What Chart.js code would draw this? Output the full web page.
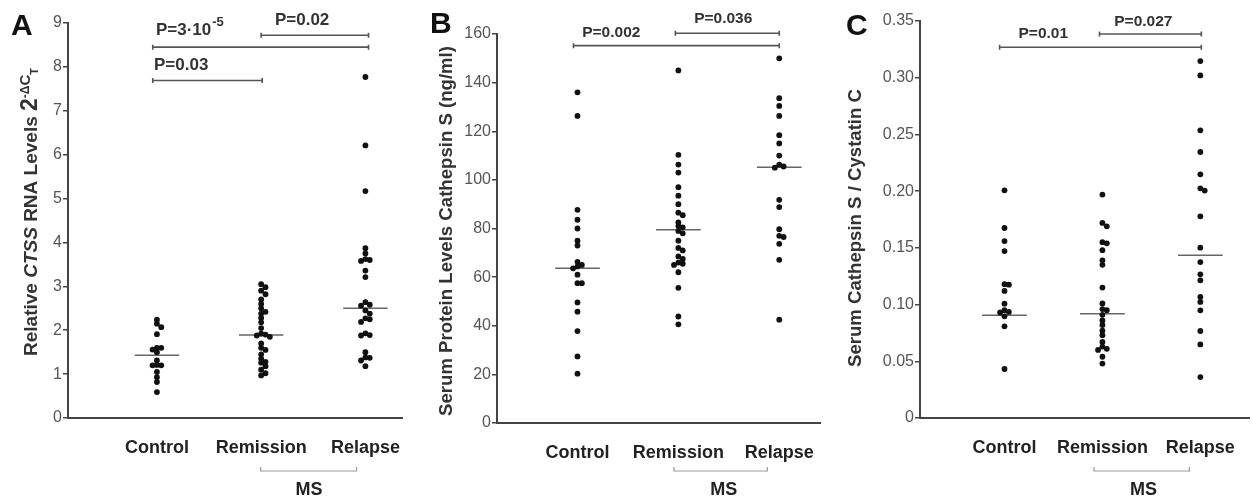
<!DOCTYPE html>
<html>
<head>
<meta charset="utf-8">
<script src="https://cdn.jsdelivr.net/npm/chart.js@4.4.1/dist/chart.umd.min.js"></script>
<style>
  body { margin: 0; background: #fff; }
  #wrap { position: relative; width: 1253px; height: 500px; overflow: hidden; }
  canvas { position: absolute; top: 0; }
</style>
</head>
<body>
<div id="wrap">
  <canvas id="chartA" width="406" height="500" style="left:0px"></canvas>
  <canvas id="chartB" width="410" height="500" style="left:414px"></canvas>
  <canvas id="chartC" width="417" height="500" style="left:836px"></canvas>
</div>
<script>
const groups = ['Control', 'Remission', 'Relapse'];

// A - relative CTSS RNA levels
const rnaControl = [2.24, 2.15, 2.07, 1.91, 1.6, 1.6, 1.56, 1.5, 1.31, 1.21, 1.2, 1.2, 1.05, 0.93, 0.82, 0.59];
const rnaRemission = [3.05, 2.98, 2.9, 2.82, 2.7, 2.6, 2.5, 2.42, 2.38, 2.28, 2.18, 2.05, 1.92, 1.9, 1.88, 1.85,
  1.7, 1.6, 1.55, 1.45, 1.35, 1.28, 1.26, 1.18, 1.1, 1.02, 0.97];
const rnaRelapse = [7.77, 6.21, 5.17, 3.87, 3.75, 3.62, 3.6, 3.58, 3.36, 3.21, 2.64, 2.58, 2.56, 2.45, 2.38,
  2.27, 2.25, 2.19, 1.93, 1.89, 1.88, 1.5, 1.38, 1.37, 1.31, 1.18];
const rnaMedians = [1.43, 1.89, 2.5];

// B - serum protein cathepsin S (ng/ml)
const protControl = [136, 126.3, 87.7, 83.6, 80, 75, 73, 66.3, 65, 64.4, 63.6, 61, 57.5, 57.5, 49.6, 45.8, 37.8, 27.4, 20.3];
const protRemission = [145, 110.3, 106.3, 103, 97, 93.5, 90, 86.5, 85.5, 82.5, 81, 80.5, 79, 78, 75, 72, 71,
  68.5, 67.5, 66, 65.5, 65, 62, 55.6, 43.8, 40.6];
const protRelapse = [150, 133.6, 130.4, 126.3, 118.4, 115, 110, 106.3, 105.5, 105, 91.8, 88.8, 79.7, 77, 76.5, 73.7, 67.1, 42.5];
const protMedians = [63.6, 79.5, 105.2];

// C - cathepsin S / cystatin C ratio
const ratioControl = [0.2007, 0.1675, 0.156, 0.1472, 0.118, 0.1175, 0.112, 0.1008, 0.095, 0.0935, 0.093, 0.0896, 0.0808, 0.0432];
const ratioRemission = [0.197, 0.172, 0.169, 0.155, 0.154, 0.148, 0.139, 0.135, 0.115, 0.101, 0.096, 0.095, 0.091,
  0.086, 0.082, 0.077, 0.073, 0.067, 0.063, 0.061, 0.06, 0.054, 0.048];
const ratioRelapse = [0.3147, 0.302, 0.2536, 0.2345, 0.2148, 0.2025, 0.2005, 0.1778, 0.1502, 0.1375, 0.1267, 0.1214,
  0.1067, 0.1023, 0.0949, 0.0767, 0.0649, 0.0361];
const ratioMedians = [0.0905, 0.092, 0.1434];

Chart.defaults.font.family = '"Liberation Sans", Arial, sans-serif';

// spread points that would sit on top of each other (simple beeswarm, in pixels)
function swarm(values, groupX, pxX, pxY) {
  const placed = [];
  const pts = [];
  const order = values.map((v, i) => i).sort((a, b) => values[b] - values[a]);
  order.forEach(i => {
    const py = values[i] * pxY;
    let off = 0;
    for (let k = 0; k < 15; k++) {
      off = k === 0 ? 0 : Math.ceil(k / 2) * 4.4 * (k % 2 ? 1 : -1);
      const hit = placed.some(p => Math.hypot(p.x - off, p.y - py) < 3.6);
      if (!hit) break;
    }
    placed.push({ x: off, y: py });
    pts.push({ x: groupX + off / pxX, y: values[i] });
  });
  return pts;
}

const decor = {
  id: 'panelDecor',
  afterDraw(chart, args, o) {
    const ctx = chart.ctx;
    const xs = chart.scales.x, ys = chart.scales.y;
    const area = chart.chartArea;
    ctx.save();

    // significance brackets
    ctx.strokeStyle = '#555';
    ctx.lineWidth = 1.6;
    o.brackets.forEach(b => {
      const y = ys.getPixelForValue(b.y);
      const x1 = xs.getPixelForValue(b.from), x2 = xs.getPixelForValue(b.to);
      ctx.beginPath();
      ctx.moveTo(x1, y); ctx.lineTo(x2, y);
      ctx.moveTo(x1, y - 2.5); ctx.lineTo(x1, y + 2.5);
      ctx.moveTo(x2, y - 2.5); ctx.lineTo(x2, y + 2.5);
      ctx.stroke();
    });

    ctx.fillStyle = '#333';
    ctx.textBaseline = 'middle';
    o.pvalues.forEach(p => {
      const x = xs.getPixelForValue(p.x), y = ys.getPixelForValue(p.y);
      ctx.font = 'bold ' + o.pSize + 'px "Liberation Sans", Arial, sans-serif';
      const w = ctx.measureText(p.text).width;
      let sw = 0;
      if (p.sup) {
        ctx.font = 'bold ' + (o.pSize - 4) + 'px "Liberation Sans", Arial, sans-serif';
        sw = ctx.measureText(p.sup).width;
      }
      const x0 = p.align === 'center' ? x - (w + sw) / 2 : x;
      ctx.textAlign = 'left';
      ctx.font = 'bold ' + o.pSize + 'px "Liberation Sans", Arial, sans-serif';
      ctx.fillText(p.text, x0, y);
      if (p.sup) {
        ctx.font = 'bold ' + (o.pSize - 4) + 'px "Liberation Sans", Arial, sans-serif';
        ctx.fillText(p.sup, x0 + w + 1, y - 8);
      }
    });

    // MS bracket under remission + relapse
    const mx1 = xs.getPixelForValue(o.ms.from), mx2 = xs.getPixelForValue(o.ms.to);
    const my = area.bottom + o.ms.dy;
    ctx.strokeStyle = '#999';
    ctx.lineWidth = 1.2;
    ctx.beginPath();
    ctx.moveTo(mx1, my - 4); ctx.lineTo(mx1, my); ctx.lineTo(mx2, my); ctx.lineTo(mx2, my - 4);
    ctx.stroke();
    ctx.fillStyle = '#222';
    ctx.textAlign = 'center';
    ctx.font = 'bold 18px "Liberation Sans", Arial, sans-serif';
    ctx.fillText('MS', xs.getPixelForValue(o.ms.x), area.bottom + o.ms.ty);

    // panel letter
    ctx.textAlign = 'left';
    ctx.textBaseline = 'alphabetic';
    ctx.fillStyle = '#111';
    ctx.font = 'bold 30px "Liberation Sans", Arial, sans-serif';
    ctx.fillText(o.letter.text, o.letter.x, o.letter.y);

    // rotated y title, may mix fonts
    ctx.translate(o.title.x, o.title.y);
    ctx.rotate(-Math.PI / 2);
    ctx.fillStyle = '#333';
    let total = 0;
    o.title.parts.forEach(p => { ctx.font = p.f; total += ctx.measureText(p.t).width; });
    let cx = -total / 2;
    o.title.parts.forEach(p => {
      ctx.font = p.f;
      ctx.fillText(p.t, cx, 6 + (p.dy || 0));
      cx += ctx.measureText(p.t).width;
    });
    ctx.restore();
  }
};

function makePanel(id, c) {
  const pxX = c.areaW / (c.xMax - c.xMin);
  const pxY = c.areaH / (c.yMax - c.yMin);
  const dots = [];
  c.series.forEach((vals, i) => dots.push(...swarm(vals, i + 1, pxX, pxY)));
  const half = 22.5 / pxX;
  const medianPts = [];
  c.medians.forEach((m, i) => {
    medianPts.push({ x: i + 1 - half, y: m }, { x: i + 1 + half, y: m }, { x: i + 1, y: null });
  });

  return new Chart(document.getElementById(id).getContext('2d'), {
    type: 'scatter',
    data: {
      datasets: [
        {
          data: dots,
          backgroundColor: '#111',
          borderWidth: 0,
          pointRadius: 2.9,
          order: 1
        },
        {
          type: 'line',
          data: medianPts,
          borderColor: '#666',
          borderWidth: 1.5,
          pointRadius: 0,
          spanGaps: false,
          order: 2
        }
      ]
    },
    options: {
      responsive: false,
      animation: false,
      events: [],
      layout: { padding: c.padding },
      plugins: {
        legend: { display: false },
        tooltip: { enabled: false },
        panelDecor: c.decor
      },
      scales: {
        x: {
          type: 'linear',
          min: c.xMin,
          max: c.xMax,
          afterBuildTicks: s => { s.ticks = [c.xMin, 1, 2, 3, c.xMax].map(v => ({ value: v })); },
          afterFit: s => { s.height = c.xH; },
          grid: { display: false },
          border: { display: true, color: '#444', width: 2 },
          ticks: {
            autoSkip: false,
            maxRotation: 0,
            padding: 0,
            color: '#222',
            // tall line box pushes the labels down below the axis
            font: { size: 18, weight: 'bold', lineHeight: 2.45 },
            callback: v => Number.isInteger(v) ? groups[v - 1] : ''
          }
        },
        y: {
          min: c.yMin,
          max: c.yMax,
          afterFit: s => { s.width = c.yW; },
          grid: { display: true, drawOnChartArea: false, drawTicks: true, tickLength: 5, color: '#444', lineWidth: 1.5 },
          border: { display: true, color: '#444', width: 2 },
          ticks: {
            stepSize: c.yStep,
            padding: 1,
            color: '#555',
            font: { size: 16 },
            callback: c.yFmt
          }
        }
      }
    },
    plugins: [decor]
  });
}

const fnt = (s, style) => (style || 'bold') + ' ' + s + 'px "Liberation Sans", Arial, sans-serif';

makePanel('chartA', {
  series: [rnaControl, rnaRemission, rnaRelapse],
  medians: rnaMedians,
  xMin: 0.147, xMax: 3.351, yMin: 0, yMax: 9, yStep: 1,
  yFmt: v => String(v),
  yW: 68, xH: 82, padding: { top: 23, right: 0, left: 0, bottom: 0 },
  areaW: 338, areaH: 395,
  decor: {
    pSize: 17,
    brackets: [
      { from: 0.96, to: 3.03, y: 8.45 },
      { from: 2.0, to: 3.03, y: 8.72 },
      { from: 0.96, to: 2.01, y: 7.69 }
    ],
    pvalues: [
      { x: 0.991, y: 8.83, text: 'P=3·10', sup: '-5', align: 'left' },
      { x: 2.393, y: 9.05, text: 'P=0.02', align: 'center' },
      { x: 0.972, y: 8.03, text: 'P=0.03', align: 'left' }
    ],
    ms: { from: 1.995, to: 2.915, x: 2.46, dy: 53, ty: 72 },
    letter: { text: 'A', x: 11, y: 35 },
    title: {
      x: 31, y: 212,
      parts: [
        { t: 'Relative ', f: fnt(19) },
        { t: 'CTSS', f: fnt(19, 'italic bold') },
        { t: ' RNA Levels ', f: fnt(19) },
        { t: '2', f: fnt(23) },
        { t: '-Δ', f: fnt(12), dy: -8 },
        { t: 'C', f: fnt(15), dy: -7 },
        { t: 'T', f: fnt(11), dy: 1 }
      ]
    }
  }
});

makePanel('chartB', {
  series: [protControl, protRemission, protRelapse],
  medians: protMedians,
  xMin: 0.202, xMax: 3.404, yMin: 0, yMax: 160, yStep: 20,
  yFmt: v => String(v),
  yW: 83, xH: 77, padding: { top: 34, right: 2, left: 0, bottom: 0 },
  areaW: 325, areaH: 389,
  decor: {
    pSize: 15.5,
    brackets: [
      { from: 0.96, to: 3.0, y: 155.2 },
      { from: 1.97, to: 3.0, y: 160.3 }
    ],
    pvalues: [
      { x: 1.335, y: 160.5, text: 'P=0.002', align: 'center' },
      { x: 2.445, y: 166.2, text: 'P=0.036', align: 'center' }
    ],
    ms: { from: 1.956, to: 2.882, x: 2.45, dy: 48, ty: 67 },
    letter: { text: 'B', x: 16, y: 33 },
    title: {
      x: 32, y: 231,
      parts: [{ t: 'Serum Protein Levels Cathepsin S (ng/ml)', f: fnt(18.6) }]
    }
  }
});

makePanel('chartC', {
  series: [ratioControl, ratioRemission, ratioRelapse],
  medians: ratioMedians,
  xMin: 0.137, xMax: 3.497, yMin: 0, yMax: 0.35, yStep: 0.05,
  yFmt: v => v === 0 ? '0' : v.toFixed(2),
  yW: 84, xH: 82, padding: { top: 21, right: 2, left: 0, bottom: 0 },
  areaW: 331, areaH: 397,
  decor: {
    pSize: 15.5,
    brackets: [
      { from: 0.95, to: 3.01, y: 0.3268 },
      { from: 1.97, to: 3.01, y: 0.3385 }
    ],
    pvalues: [
      { x: 1.396, y: 0.3384, text: 'P=0.01', align: 'center' },
      { x: 2.418, y: 0.3491, text: 'P=0.027', align: 'center' }
    ],
    ms: { from: 1.914, to: 2.888, x: 2.42, dy: 53, ty: 72 },
    letter: { text: 'C', x: 10, y: 35 },
    title: {
      x: 19, y: 228,
      parts: [{ t: 'Serum Cathepsin S / Cystatin C', f: fnt(18.6) }]
    }
  }
});
</script>
</body>
</html>
